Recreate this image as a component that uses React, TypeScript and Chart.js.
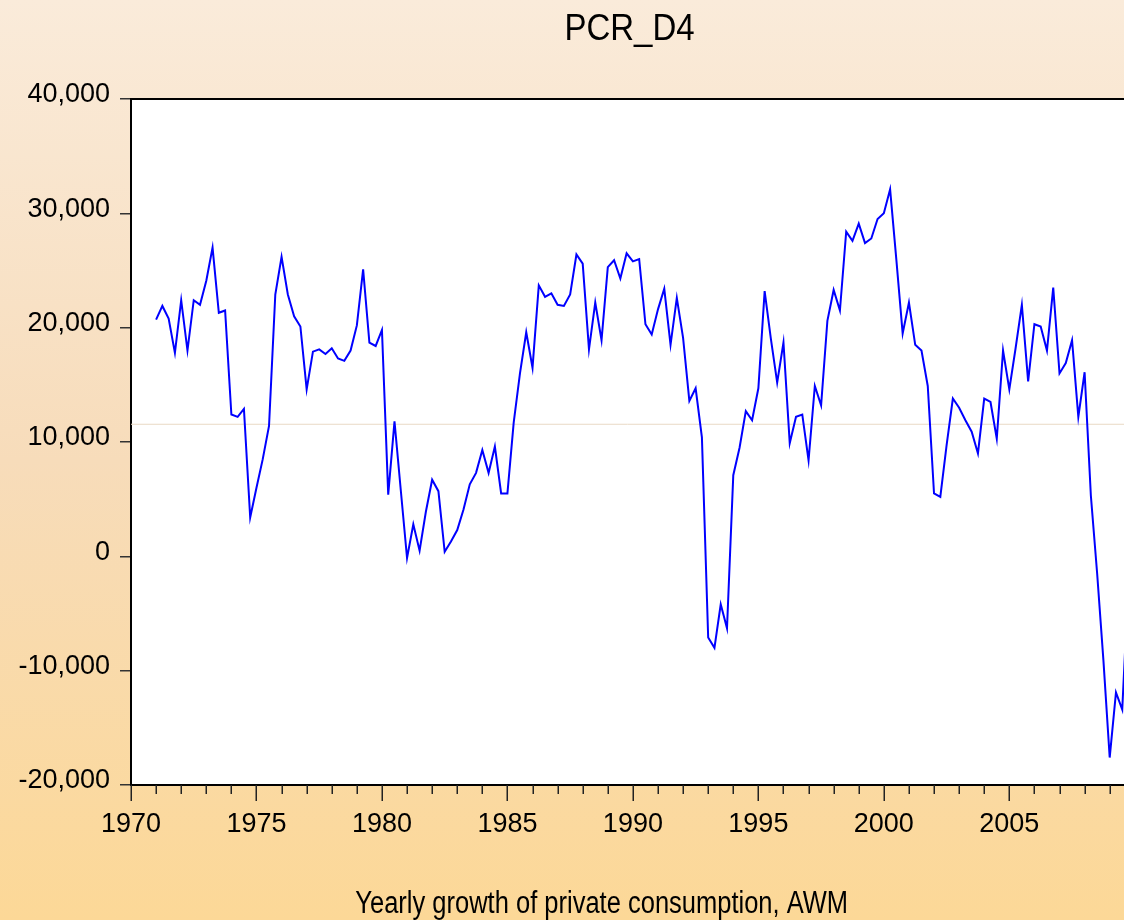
import React, { useEffect, useRef } from 'react';
import { Chart, registerables } from 'chart.js';

Chart.register(...registerables);

const FONT = '"Liberation Sans", Arial, Helvetica, sans-serif';

const TITLE = 'PCR_D4';
const X_TITLE = 'Yearly growth of private consumption, AWM';

// Quarterly data, first observation 1971Q1
const START_YEAR = 1971;

// 1971Q1 - 1979Q4
const values1970s = [
  20700, 21900, 20800, 17800, 22400, 18000, 22400, 22000, 24100, 27000, 21300, 21500,
  12400, 12200, 12900, 3400, 6000, 8500, 11400, 22900, 26200, 22900, 21000, 20100,
  14600, 17900, 18100, 17700, 18200, 17300, 17100, 18000, 20200, 25100, 18700, 18400,
];
// 1980Q1 - 1989Q4
const values1980s = [
  19800, 5400, 11800, 5800, -150, 2800, 500, 3900, 6700, 5700, 400, 1300,
  2300, 4100, 6300, 7300, 9300, 7300, 9600, 5500, 5500, 11700, 16000, 19600,
  16500, 23700, 22700, 23000, 22000, 21900, 22900, 26400, 25600, 18100, 22200, 18900,
  25300, 25900, 24300, 26500,
];
// 1990Q1 - 1999Q4
const values1990s = [
  25800, 26000, 20300, 19400, 21600, 23400, 18500, 22600, 19100, 13600, 14700, 10400,
  -7100, -8000, -4200, -6300, 7100, 9500, 12700, 11900, 14700, 23200, 19000, 15200,
  18700, 9900, 12200, 12400, 8400, 14900, 13200, 20600, 23300, 21500, 28400, 27600,
  29100, 27400, 27800, 29500,
];
// 2000Q1 - 2009Q4
const values2000s = [
  30000, 32100, 25900, 19500, 22200, 18500, 18000, 14900, 5500, 5200, 9700, 13800,
  13000, 11900, 10900, 9000, 13800, 13500, 10300, 18000, 14600, 18200, 22000, 15300,
  20300, 20100, 18000, 23500, 16000, 16900, 18900, 12200, 16100, 5300, -1500, -9100,
  -17600, -11900, -13400, -2000,
];

const MEAN_LINE = 11550;

const X_MIN = 1970;
const X_MAX = 2009.57;
const Y_MIN = -20000;
const Y_MAX = 40000;
const Y_STEP = 10000;
const X_LABEL_STEP = 5;

const bgPlugin = {
  id: 'bgPlugin',
  beforeDraw(chart: any) {
    const { ctx, width, height, chartArea } = chart;
    ctx.save();
    const g = ctx.createLinearGradient(0, 0, 0, height);
    g.addColorStop(0, '#FAEBDA');
    g.addColorStop(0.5, '#F7DCBA');
    g.addColorStop(1, '#FCD897');
    ctx.fillStyle = g;
    ctx.fillRect(0, 0, width, height);
    ctx.fillStyle = '#FFFFFF';
    ctx.fillRect(chartArea.left, chartArea.top, chartArea.right - chartArea.left, chartArea.bottom - chartArea.top);
    ctx.restore();
  },
};

const decoPlugin = {
  id: 'decoPlugin',
  afterDraw(chart: any) {
    const { ctx, chartArea } = chart;
    const xs = chart.scales.x;
    ctx.save();
    // top frame line
    ctx.strokeStyle = '#000';
    ctx.lineWidth = 2;
    ctx.beginPath();
    ctx.moveTo(chartArea.left - 1, chartArea.top);
    ctx.lineTo(chartArea.right, chartArea.top);
    ctx.stroke();
    // x ticks (yearly minor, 5-year major)
    ctx.strokeStyle = '#222';
    ctx.lineWidth = 1.5;
    for (let yr = Math.ceil(X_MIN); yr <= X_MAX; yr++) {
      const px = Math.round(xs.getPixelForValue(yr)) + 0.25;
      const len = yr % X_LABEL_STEP === 0 ? 16 : 9;
      ctx.beginPath();
      ctx.moveTo(px, chartArea.bottom);
      ctx.lineTo(px, chartArea.bottom + len);
      ctx.stroke();
    }
    // titles
    ctx.fillStyle = '#000';
    ctx.textAlign = 'center';
    ctx.textBaseline = 'alphabetic';
    ctx.save();
    ctx.translate(629.5, 40);
    ctx.scale(1, 1.13);
    ctx.font = `33px ${FONT}`;
    ctx.fillText(TITLE, 0, 0);
    ctx.restore();
    ctx.save();
    ctx.translate(601.7, 913);
    ctx.scale(1, 1.2);
    ctx.font = `25.5px ${FONT}`;
    ctx.fillText(X_TITLE, 0, 0);
    ctx.restore();
    ctx.restore();
  },
};

export default function App() {
  const ref = useRef<HTMLCanvasElement | null>(null);

  useEffect(() => {
    document.body.style.margin = '0';
    document.body.style.overflow = 'hidden';
    const values = [...values1970s, ...values1980s, ...values1990s, ...values2000s];
    const points = values.map((v, i) => ({ x: START_YEAR + i / 4, y: v }));
    const chart = new Chart(ref.current as HTMLCanvasElement, {
      type: 'line',
      data: {
        datasets: [
          {
            data: points,
            borderColor: '#0000FF',
            borderWidth: 2,
            pointRadius: 0,
            tension: 0,
            fill: false,
            order: 1,
          },
          {
            data: [
              { x: X_MIN, y: MEAN_LINE },
              { x: X_MAX, y: MEAN_LINE },
            ],
            borderColor: '#E9D9C5',
            borderWidth: 1,
            pointRadius: 0,
            fill: false,
            order: 2,
          },
        ],
      },
      options: {
        animation: false,
        responsive: false,
        devicePixelRatio: 1,
        layout: { padding: { top: 99, left: 0, right: 0, bottom: 0 } },
        plugins: {
          legend: { display: false },
          tooltip: { enabled: false },
          title: { display: false },
        },
        scales: {
          x: {
            type: 'linear',
            min: X_MIN,
            max: X_MAX,
            afterFit: (s: any) => {
              s.height = 135;
              s.paddingRight = 0;
              s.paddingLeft = 0;
            },
            grid: { display: false },
            border: { display: true, color: '#000', width: 2 },
            ticks: {
              stepSize: 1,
              autoSkip: false,
              maxRotation: 0,
              minRotation: 0,
              color: '#000',
              font: { family: FONT, size: 27 },
              padding: 15,
              callback: (v: any) => (Number.isInteger(v) && v % X_LABEL_STEP === 0 ? String(v) : ''),
            },
          },
          y: {
            type: 'linear',
            min: Y_MIN,
            max: Y_MAX,
            afterFit: (s: any) => {
              s.width = 131;
              s.paddingTop = 0;
              s.paddingBottom = 0;
            },
            grid: { drawOnChartArea: false, drawTicks: true, tickLength: 11, color: '#333', lineWidth: 1.5 },
            border: { display: true, color: '#000', width: 2 },
            ticks: {
              stepSize: Y_STEP,
              color: '#000',
              font: { family: FONT, size: 27 },
              padding: 10,
              labelOffset: -4,
              callback: (v: any) => Number(v).toLocaleString('en-US'),
            },
          },
        },
      },
      plugins: [bgPlugin, decoPlugin],
    });
    return () => chart.destroy();
  }, []);

  return (
    <div style={{ position: 'absolute', left: 0, top: 0, width: 1124, height: 920, overflow: 'hidden' }}>
      <canvas ref={ref} width={1124} height={920} style={{ display: 'block', width: 1124, height: 920 }} />
    </div>
  );
}
